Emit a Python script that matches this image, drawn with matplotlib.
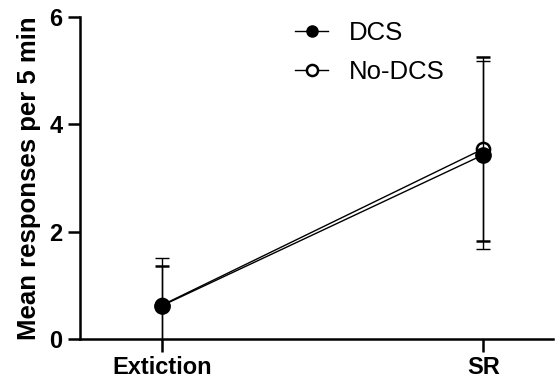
import numpy as np
import matplotlib.pyplot as plt
from matplotlib.lines import Line2D

plt.rcParams['font.family'] = ['Liberation Sans', 'DejaVu Sans']

phases = ['Extiction', 'SR']
dcs_mean = [0.62, 3.43]
dcs_sem = [0.88, 1.75]
nodcs_mean = [0.63, 3.54]
nodcs_sem = [0.72, 1.72]

x = np.arange(len(phases))

fig = plt.figure(figsize=(5.56, 3.83), dpi=100)
ax = fig.add_axes([0.144, 0.115, 0.851, 0.841])

# open circles first so the filled DCS markers sit on top
ax.errorbar(x, nodcs_mean, yerr=nodcs_sem, color='black', lw=1.0, marker='o',
            markersize=9.5, markerfacecolor='white', markeredgecolor='black',
            markeredgewidth=1.8, capsize=4.7, capthick=1.0, elinewidth=1.0,
            zorder=3)
ax.errorbar(x, dcs_mean, yerr=dcs_sem, color='black', lw=1.0, marker='o',
            markersize=11, markerfacecolor='black', markeredgecolor='black',
            capsize=4.7, capthick=1.0, elinewidth=1.0, zorder=4)

ax.set_xlim(-0.255, 1.218)
ax.set_ylim(0, 6)
ax.set_yticks([0, 2, 4, 6])
ax.set_xticks(x)
ax.set_xticklabels(phases)

for side in ['top', 'right']:
    ax.spines[side].set_visible(False)
for side in ['left', 'bottom']:
    ax.spines[side].set_linewidth(1.8)

ax.tick_params(axis='both', direction='out', width=1.8, length=9,
               labelsize=17)
for lbl in ax.get_xticklabels() + ax.get_yticklabels():
    lbl.set_fontweight('bold')

ax.set_ylabel('Mean responses per 5 min', fontsize=18.5, fontweight='bold',
              labelpad=6)

handles = [
    Line2D([], [], color='black', lw=1.0, marker='o', markersize=8,
           markerfacecolor='black', markeredgecolor='black'),
    Line2D([], [], color='black', lw=1.0, marker='o', markersize=8,
           markerfacecolor='white', markeredgecolor='black',
           markeredgewidth=1.8),
]
ax.legend(handles, ['DCS', 'No-DCS'], loc='upper left',
          bbox_to_anchor=(0.405, 1.06), frameon=False, fontsize=18.5,
          handlelength=1.3, handletextpad=0.8, labelspacing=0.6)

fig.savefig('out.png', dpi=100)
